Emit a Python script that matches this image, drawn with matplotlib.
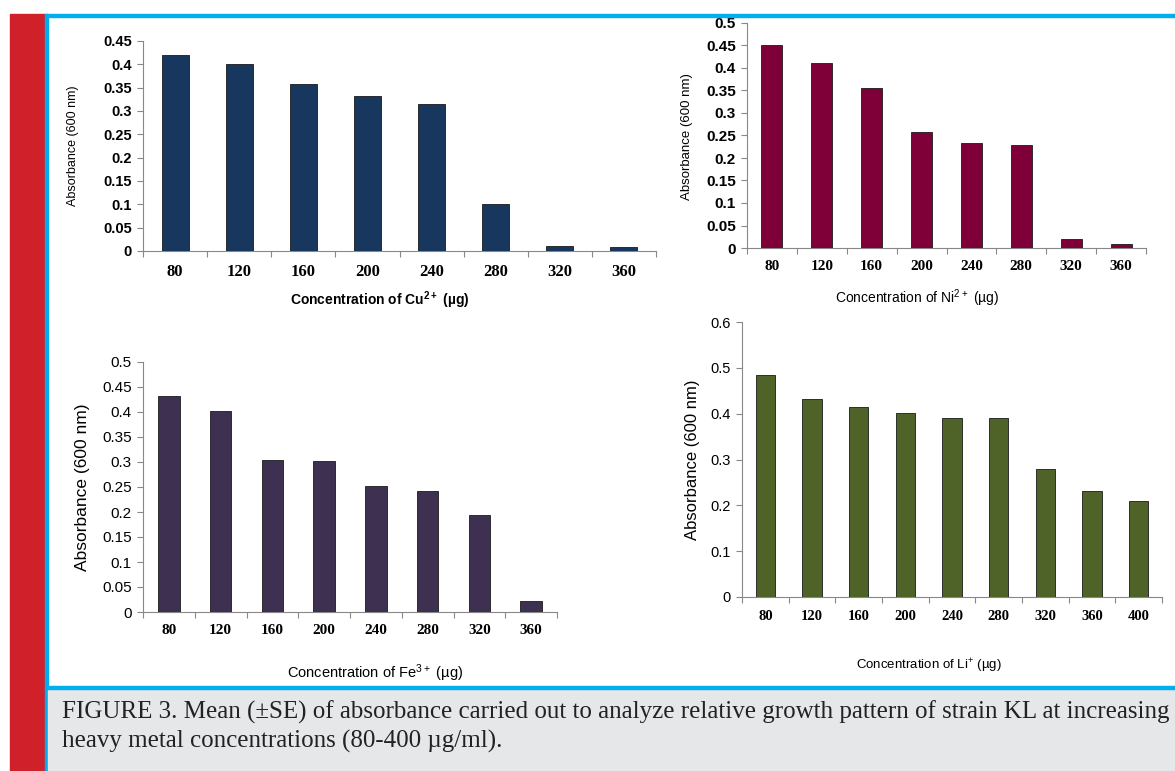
import matplotlib.pyplot as plt
from matplotlib.patches import Rectangle
import numpy as np

W, H = 1175, 771

# data
conc_cu = [80, 120, 160, 200, 240, 280, 320, 360]
abs_cu = [0.42, 0.40, 0.358, 0.332, 0.315, 0.10, 0.011, 0.008]

conc_ni = [80, 120, 160, 200, 240, 280, 320, 360]
abs_ni = [0.45, 0.41, 0.355, 0.258, 0.233, 0.229, 0.019, 0.008]

conc_fe = [80, 120, 160, 200, 240, 280, 320, 360]
abs_fe = [0.431, 0.401, 0.304, 0.301, 0.252, 0.241, 0.195, 0.022]

conc_li = [80, 120, 160, 200, 240, 280, 320, 360, 400]
abs_li = [0.485, 0.433, 0.415, 0.402, 0.391, 0.391, 0.279, 0.231, 0.210]


def box(l, t, r, b):
    # pixel box -> figure fraction
    return [l / W, 1 - b / H, (r - l) / W, (b - t) / H]


fig = plt.figure(figsize=(W / 100, H / 100), dpi=100)
fig.patch.set_facecolor('white')

# page frame: red band, blue rules, grey caption box
fig.patches.append(Rectangle((10 / W, 0), 35 / W, 1 - 14 / H, transform=fig.transFigure,
                             color='#d0202a', zorder=0))
fig.patches.append(Rectangle((45 / W, 0), 3 / W, 1 - 14 / H, transform=fig.transFigure,
                             color='#00aeef', zorder=0))
fig.patches.append(Rectangle((45 / W, 1 - 17 / H), 1 - 45 / W, 3 / H, transform=fig.transFigure,
                             color='#00aeef', zorder=0))
fig.patches.append(Rectangle((48 / W, 0), 1 - 48 / W, 1 - 689 / H, transform=fig.transFigure,
                             color='#e6e7e9', zorder=0))
fig.patches.append(Rectangle((45 / W, 1 - 689 / H), 1 - 45 / W, 3 / H, transform=fig.transFigure,
                             color='#00aeef', zorder=0))


def panel(rect, conc, vals, color, ymax, ystep, bold_y, ytick_fs, ylab_fs, xlab, xlab_xy,
          ylab_xy, xt_fs, xlab_fs, xlab_bold):
    ax = fig.add_axes(box(*rect))
    ax.patch.set_alpha(0)
    n = len(conc)
    x = np.arange(n)
    ax.bar(x, vals, width=0.42, color=color, edgecolor='#1a1a1a', linewidth=0.6, zorder=3)
    ax.set_xlim(-0.5, n - 0.5)
    ax.set_ylim(0, ymax)
    yt = np.round(np.arange(0, ymax + ystep / 2, ystep), 3)
    ax.set_yticks(yt)
    ax.set_yticklabels(['%g' % v for v in yt], fontsize=ytick_fs,
                       fontweight='bold' if bold_y else 'normal', family='Liberation Sans')
    ax.set_xticks(x)
    ax.set_xticklabels([str(c) for c in conc], fontsize=xt_fs, fontweight='bold',
                       family='Liberation Serif')
    ax.set_xticks(np.arange(-0.5, n, 1.0), minor=True)
    ax.tick_params(axis='x', which='major', length=0, pad=9)
    ax.tick_params(axis='x', which='minor', length=4, color='#888888', width=0.8)
    ax.tick_params(axis='y', length=4, color='#888888', width=0.8, pad=4)
    for s in ['top', 'right']:
        ax.spines[s].set_visible(False)
    for s in ['left', 'bottom']:
        ax.spines[s].set_color('#888888')
        ax.spines[s].set_linewidth(0.8)
    fig.text(ylab_xy[0] / W, 1 - ylab_xy[1] / H, 'Absorbance (600 nm)', rotation=90,
             ha='center', va='center', fontsize=ylab_fs, family='Liberation Sans')
    fig.text(xlab_xy[0] / W, 1 - xlab_xy[1] / H, xlab, ha='center', va='center',
             fontsize=xlab_fs, family='Liberation Sans',
             fontweight='bold' if xlab_bold else 'normal')
    return ax


panel((143, 41, 656, 251), conc_cu, abs_cu, '#17375e', 0.45, 0.05, True, 10.5, 9,
      r'Concentration of Cu$\mathregular{^{2+}}$ (µg)', (380, 300), (73, 146), 12, 10, True)
panel((747, 23, 1146, 248), conc_ni, abs_ni, '#7f0038', 0.5, 0.05, True, 11, 9.5,
      r'Concentration of Ni$\mathregular{^{2+}}$ (µg)', (917, 298), (687, 137), 11, 10, False)
panel((143, 362, 557, 612), conc_fe, abs_fe, '#3d3050', 0.5, 0.05, False, 11, 12.5,
      r'Concentration of Fe$\mathregular{^{3+}}$ (µg)', (375, 673), (82, 487), 11, 10.5, False)
panel((742, 322, 1162, 597), conc_li, abs_li, '#4f6228', 0.6, 0.1, False, 10.5, 12,
      r'Concentration of Li$\mathregular{^{+}}$ (µg)', (929, 666), (693, 460), 10.5, 9.5, False)

fig.text(62 / W, 1 - 712 / H,
         'FIGURE 3. Mean (±SE) of absorbance carried out to analyze relative growth pattern of strain KL at increasing',
         ha='left', va='center', fontsize=18, family='Liberation Serif', color='#222222')
fig.text(62 / W, 1 - 741 / H, 'heavy metal concentrations (80-400 µg/ml).',
         ha='left', va='center', fontsize=18, family='Liberation Serif', color='#222222')

plt.savefig('out.png', dpi=100)
